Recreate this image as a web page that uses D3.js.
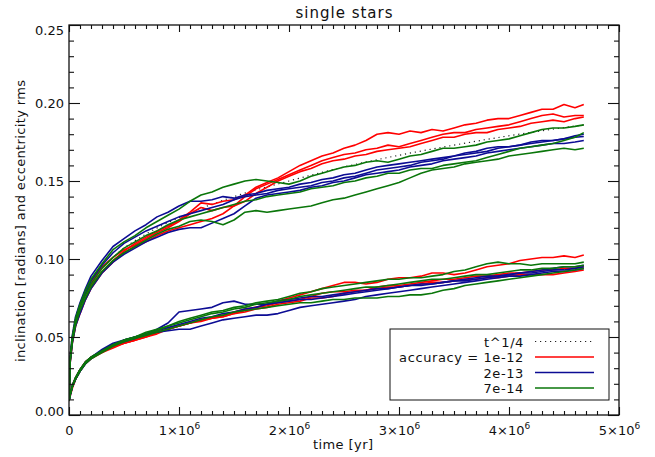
<!DOCTYPE html>
<html><head><meta charset="utf-8">
<script src="https://cdn.jsdelivr.net/npm/d3@7"></script>
<style>
body{margin:0;background:#fff;}
svg text{font-family:"DejaVu Sans","Liberation Sans",sans-serif;fill:#111;}
</style></head><body>
<svg id="c" width="655" height="457"></svg>
<script>
// ---- data (time in Myr) ----
const timesMyr = [0,.01,.03,.06,.1,.15,.2,.3,.4,.5,.6,.7,.8,.9,1.0,1.1,1.2,1.3,1.4,1.5,1.6,1.7,1.8,1.9,2.0,2.1,2.2,2.3,2.4,2.5,2.6,2.7,2.8,2.9,3.0,3.1,3.2,3.3,3.4,3.5,3.6,3.7,3.8,3.9,4.0,4.1,4.2,4.3,4.4,4.5,4.6,4.68];

// upper bundle (eccentricity rms)
const eccRed1 = [.009,.034,.047,.058,.066,.075,.083,.092,.099,.105,.110,.114,.118,.121,.125,.130,.136,.135,.137,.138,.141,.146,.149,.152,.156,.160,.163,.166,.168,.171,.173,.176,.180,.181,.180,.182,.181,.183,.182,.184,.186,.187,.189,.190,.190,.192,.194,.196,.196,.199,.197,.199];
const eccRed2 = [.009,.036,.049,.061,.069,.078,.085,.095,.101,.106,.109,.113,.117,.120,.124,.129,.133,.131,.133,.134,.140,.145,.148,.151,.154,.157,.160,.163,.165,.167,.168,.170,.171,.173,.172,.174,.176,.178,.180,.181,.181,.183,.184,.185,.186,.188,.190,.192,.193,.191,.192,.192];
const eccRed3 = [.009,.033,.046,.057,.065,.074,.081,.091,.098,.104,.108,.111,.115,.118,.120,.122,.124,.126,.129,.134,.137,.142,.146,.150,.153,.156,.158,.161,.163,.164,.166,.167,.169,.170,.171,.172,.174,.176,.178,.178,.180,.181,.181,.183,.184,.185,.187,.188,.189,.188,.190,.191];
const eccBlue1 = [.009,.037,.051,.063,.072,.081,.089,.099,.108,.113,.118,.122,.127,.130,.134,.137,.137,.138,.140,.139,.141,.142,.144,.145,.146,.148,.149,.151,.152,.154,.155,.157,.159,.160,.161,.162,.163,.164,.165,.166,.168,.169,.171,.172,.172,.173,.175,.176,.176,.177,.179,.180];
const eccBlue2 = [.009,.033,.046,.057,.065,.074,.081,.091,.098,.103,.107,.111,.114,.117,.119,.120,.120,.123,.126,.129,.134,.139,.141,.142,.143,.144,.146,.147,.149,.150,.152,.154,.155,.156,.157,.159,.160,.161,.163,.164,.165,.166,.168,.169,.170,.171,.172,.173,.174,.174,.175,.176];
const eccBlue3 = [.009,.035,.049,.061,.070,.078,.086,.096,.104,.110,.114,.118,.121,.124,.127,.129,.131,.133,.135,.138,.140,.141,.142,.144,.145,.146,.147,.149,.150,.152,.153,.155,.157,.158,.159,.160,.162,.163,.164,.166,.167,.168,.169,.171,.172,.173,.174,.175,.176,.177,.178,.1785];
const eccGreen1 = [.009,.036,.050,.062,.071,.080,.087,.097,.106,.111,.115,.120,.124,.128,.132,.137,.141,.143,.146,.148,.150,.151,.150,.149,.148,.150,.153,.155,.157,.159,.160,.162,.163,.162,.164,.166,.167,.169,.171,.171,.172,.173,.175,.176,.177,.179,.181,.183,.184,.184,.185,.186];
const eccGreen2 = [.009,.035,.048,.060,.069,.077,.084,.094,.101,.107,.111,.115,.118,.122,.125,.127,.129,.131,.133,.135,.137,.138,.140,.141,.142,.143,.145,.146,.147,.149,.150,.152,.153,.155,.155,.157,.158,.158,.160,.161,.162,.163,.165,.167,.169,.171,.172,.173,.174,.176,.178,.181];
const eccGreen3 = [.009,.034,.047,.058,.067,.075,.082,.092,.099,.104,.108,.112,.116,.119,.121,.124,.125,.124,.122,.125,.130,.131,.130,.131,.132,.133,.134,.136,.138,.139,.141,.143,.145,.147,.149,.152,.155,.157,.158,.159,.161,.162,.163,.164,.166,.167,.168,.169,.170,.171,.170,.171];

// lower bundle (inclination rms)
const incRed1 = [.009,.014,.019,.024,.029,.034,.037,.041,.044,.046,.048,.050,.052,.055,.057,.059,.060,.062,.063,.065,.067,.069,.071,.073,.075,.077,.079,.081,.083,.085,.085,.084,.085,.087,.088,.088,.089,.091,.091,.090,.091,.093,.095,.096,.097,.099,.100,.101,.101,.102,.101,.1025];
const incRed2 = [.009,.013,.018,.023,.029,.034,.037,.040,.043,.046,.048,.050,.053,.055,.057,.059,.061,.062,.063,.065,.066,.068,.069,.071,.072,.073,.075,.075,.076,.078,.079,.080,.081,.082,.082,.083,.084,.085,.085,.086,.087,.087,.088,.088,.089,.090,.090,.090,.090,.091,.092,.093];
const incRed3 = [.009,.012,.017,.023,.028,.033,.036,.040,.044,.046,.048,.051,.053,.055,.057,.059,.061,.062,.064,.066,.068,.069,.070,.072,.073,.074,.076,.078,.079,.079,.080,.080,.082,.083,.083,.084,.085,.086,.087,.087,.088,.089,.089,.090,.091,.091,.092,.093,.093,.094,.094,.095];
const incBlue1 = [.009,.013,.019,.024,.029,.034,.037,.041,.045,.047,.049,.052,.055,.059,.066,.067,.068,.069,.072,.073,.071,.071,.071,.073,.074,.075,.076,.076,.077,.078,.079,.080,.081,.081,.082,.083,.083,.084,.085,.086,.086,.087,.088,.089,.090,.091,.092,.093,.094,.095,.095,.096];
const incBlue2 = [.009,.013,.018,.023,.028,.033,.036,.041,.045,.048,.050,.052,.053,.054,.055,.055,.057,.059,.061,.062,.063,.064,.064,.065,.067,.069,.070,.071,.072,.073,.074,.076,.077,.078,.079,.080,.081,.082,.083,.084,.085,.086,.087,.088,.089,.089,.090,.091,.092,.092,.093,.094];
const incBlue3 = [.009,.012,.018,.023,.028,.033,.037,.042,.046,.048,.050,.052,.054,.056,.058,.060,.062,.063,.065,.066,.068,.069,.071,.072,.073,.074,.074,.075,.076,.077,.078,.079,.080,.081,.082,.083,.084,.084,.085,.086,.087,.088,.089,.089,.090,.091,.091,.092,.093,.093,.094,.095];
const incGreen1 = [.009,.013,.019,.024,.029,.034,.037,.041,.045,.048,.050,.053,.055,.057,.060,.062,.064,.066,.067,.069,.070,.072,.073,.074,.076,.078,.079,.081,.082,.083,.084,.085,.086,.087,.087,.088,.088,.089,.090,.092,.093,.095,.097,.098,.097,.097,.096,.097,.097,.097,.097,.098];
const incGreen2 = [.009,.013,.018,.023,.028,.033,.036,.040,.044,.047,.049,.051,.053,.055,.057,.059,.061,.063,.064,.066,.067,.068,.069,.070,.071,.072,.072,.073,.074,.074,.075,.075,.075,.076,.076,.077,.077,.078,.080,.081,.083,.084,.085,.086,.087,.088,.089,.090,.091,.092,.093,.094];
const incGreen3 = [.009,.013,.018,.024,.029,.034,.037,.041,.045,.048,.050,.052,.054,.057,.059,.061,.063,.065,.066,.068,.069,.071,.072,.073,.074,.076,.077,.078,.079,.080,.081,.082,.082,.083,.084,.085,.086,.087,.087,.088,.089,.090,.090,.091,.092,.093,.093,.094,.094,.095,.095,.096];

// t^1/4 reference line
const dottedTimesMyr = [0.01,0.05,0.1,0.2,0.4,0.7,1.0,1.5,2.0,2.5,3.0,3.5,4.0,4.68];
const dottedValues = [.040,.060,.071,.085,.101,.116,.1265,.140,.150,.159,.1665,.173,.179,.186];

// ticks and labels
const xTickValues = [0,1e6,2e6,3e6,4e6,5e6];
const xTickMantissa = ["0","1","2","3","4","5"];
const xTickExponent = ["","6","6","6","6","6"];
const yTickValues = [0,0.05,0.10,0.15,0.20,0.25];
const yTickLabels = ["0.00","0.05","0.10","0.15","0.20","0.25"];
const legendLabels = ["t^1/4","accuracy = 1e-12","2e-13","7e-14"];
const seriesColors = {red:"#ff0000", blue:"#0c0c94", green:"#0a760a"};

// ---- drawing ----
const svg = d3.select("#c");
const M = {l:69, r:619, t:25, b:415};
const x = d3.scaleLinear([0,5e6],[M.l,M.r]);
const y = d3.scaleLinear([0,0.25],[M.b,M.t]);

svg.append("defs").append("clipPath").attr("id","clip")
  .append("rect").attr("x",M.l).attr("y",M.t).attr("width",M.r-M.l).attr("height",M.b-M.t);

const series = [
  {c:"red", v:eccRed1},{c:"red", v:eccRed2},{c:"red", v:eccRed3},
  {c:"red", v:incRed1},{c:"red", v:incRed2},{c:"red", v:incRed3},
  {c:"blue", v:eccBlue1},{c:"blue", v:eccBlue2},{c:"blue", v:eccBlue3},
  {c:"blue", v:incBlue1},{c:"blue", v:incBlue2},{c:"blue", v:incBlue3},
  {c:"green", v:eccGreen1},{c:"green", v:eccGreen2},{c:"green", v:eccGreen3},
  {c:"green", v:incGreen1},{c:"green", v:incGreen2},{c:"green", v:incGreen3}
];

const line = d3.line().x(d=>x(d[0]*1e6)).y(d=>y(d[1])).curve(d3.curveLinear);
const gData = svg.append("g").attr("clip-path","url(#clip)");

gData.append("path")
  .datum(dottedTimesMyr.map((t,i)=>[t,dottedValues[i]]))
  .attr("d", d3.line().x(d=>x(d[0]*1e6)).y(d=>y(d[1])).curve(d3.curveMonotoneX))
  .attr("fill","none").attr("stroke","#222").attr("stroke-width",1.2)
  .attr("stroke-dasharray","1.2,3.8");

gData.selectAll("path.s").data(series).join("path").attr("class","s")
  .attr("d", s=>line(timesMyr.map((t,i)=>[t,s.v[i]])))
  .attr("fill","none").attr("stroke",s=>seriesColors[s.c])
  .attr("stroke-width",1.6).attr("stroke-linejoin","round");

// axes
const minorX = d3.range(0,5e6+1,1e5).filter(v=>v%1e6!==0);
const minorY = d3.range(0,0.2501,0.01).map(v=>+v.toFixed(2)).filter(v=>Math.abs(v*20-Math.round(v*20))>1e-6);

function clean(g){ g.select(".domain").remove(); g.selectAll("line").attr("stroke","#111").attr("stroke-width",1.1); }

svg.append("g").attr("transform",`translate(0,${M.b})`)
  .call(d3.axisBottom(x).tickValues(minorX).tickSize(-4).tickFormat("")).call(clean);
svg.append("g").attr("transform",`translate(0,${M.t})`)
  .call(d3.axisTop(x).tickValues(minorX).tickSize(-4).tickFormat("")).call(clean);
svg.append("g").attr("transform",`translate(0,${M.t})`)
  .call(d3.axisTop(x).tickValues(xTickValues).tickSize(-7).tickFormat("")).call(clean);
svg.append("g").attr("transform",`translate(${M.l},0)`)
  .call(d3.axisLeft(y).tickValues(minorY).tickSize(-5).tickFormat("")).call(clean);
svg.append("g").attr("transform",`translate(${M.r},0)`)
  .call(d3.axisRight(y).tickValues(minorY).tickSize(-5).tickFormat("")).call(clean);
svg.append("g").attr("transform",`translate(${M.r},0)`)
  .call(d3.axisRight(y).tickValues(yTickValues).tickSize(-11).tickFormat("")).call(clean);

const gx = svg.append("g").attr("transform",`translate(0,${M.b})`)
  .call(d3.axisBottom(x).tickValues(xTickValues).tickSize(-8).tickPadding(11).tickFormat(""))
  .call(clean);
gx.selectAll(".tick").each(function(d,i){
  const t = d3.select(this).append("text").attr("y",20).attr("text-anchor","middle")
    .attr("font-size",13).attr("fill","#111");
  if(xTickExponent[i]===""){ t.text(xTickMantissa[i]); }
  else {
    t.append("tspan").text(xTickMantissa[i]+"\u00d710");
    t.append("tspan").attr("dy",-6).attr("font-size",9).text(xTickExponent[i]);
  }
});

const gy = svg.append("g").attr("transform",`translate(${M.l},0)`)
  .call(d3.axisLeft(y).tickValues(yTickValues).tickSize(-11).tickPadding(5)
    .tickFormat((d,i)=>yTickLabels[i]))
  .call(clean);
gy.selectAll("text").attr("font-size",13).attr("fill","#111").attr("x",-5)
  .attr("dy",(d,i)=> i===0 ? "0.05em" : (i===yTickLabels.length-1 ? "0.75em" : "0.35em"));

svg.append("rect").attr("x",M.l).attr("y",M.t).attr("width",M.r-M.l).attr("height",M.b-M.t)
  .attr("fill","none").attr("stroke","#111").attr("stroke-width",1.3);

// titles
svg.append("text").attr("x",344).attr("y",18).attr("text-anchor","middle")
  .attr("font-size",15).attr("textLength",97).attr("lengthAdjust","spacing").text("single stars");
svg.append("text").attr("x",343).attr("y",449).attr("text-anchor","middle")
  .attr("font-size",13).attr("textLength",60).attr("lengthAdjust","spacing").text("time [yr]");
svg.append("text").attr("transform","translate(25,221) rotate(-90)").attr("text-anchor","middle")
  .attr("font-size",13).attr("textLength",282).attr("lengthAdjust","spacing")
  .text("inclination [radians] and eccentricity rms");

// legend
const lg = svg.append("g");
lg.append("rect").attr("x",390).attr("y",329).attr("width",219).attr("height",71)
  .attr("fill","#fff").attr("stroke","#111").attr("stroke-width",1);
const legendY = d3.scalePoint().domain(d3.range(legendLabels.length)).range([341.5,388]);
const legendStroke = [ {c:"#222",dash:"1.2,3.8",w:1.2}, {c:seriesColors.red,w:1.6}, {c:seriesColors.blue,w:1.6}, {c:seriesColors.green,w:1.6} ];
legendLabels.forEach((lab,i)=>{
  lg.append("text").attr("x",524).attr("y",legendY(i)+5).attr("text-anchor","end")
    .attr("font-size",13).attr("letter-spacing",0.6).text(lab);
  lg.append("line").attr("x1",535).attr("x2",594).attr("y1",legendY(i)).attr("y2",legendY(i))
    .attr("stroke",legendStroke[i].c).attr("stroke-width",legendStroke[i].w)
    .attr("stroke-dasharray",legendStroke[i].dash||null);
});
</script>
</body></html>
